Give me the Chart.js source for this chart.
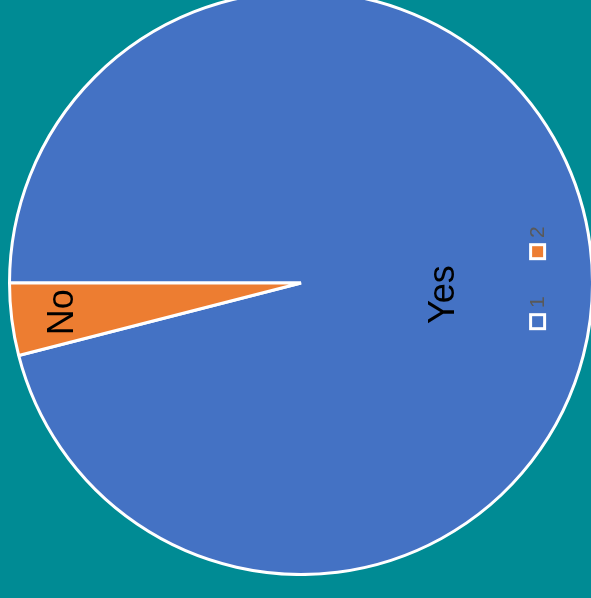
<!DOCTYPE html>
<html>
<head>
<meta charset="utf-8">
<script src="https://cdn.jsdelivr.net/npm/chart.js@4.4.0/dist/chart.umd.min.js"></script>
<style>
  html, body { margin: 0; padding: 0; background: #008b94; overflow: hidden; }
  body { width: 591px; height: 598px; position: relative; }
  #wrap { position: absolute; left: 8px; top: -10px; width: 586px; height: 586px; }
</style>
</head>
<body>
<div id="wrap"><canvas id="grafico"></canvas></div>
<script>
// dados do grafico
let categorias = ["Yes", "No"];
let valores = [96, 4];
let legendaNomes = ["1", "2"];
let cores = ["#4472c4", "#ed7d31"];

// posicao dos rotulos (fracao do raio) e da legenda
let posRotulos = [[0.492, 0.04], [-0.815, 0.1]];

let rotulosPlugin = {
    id: "rotulos",
    afterDraw(chart) {
        let ctx = chart.ctx;
        let arco = chart.getDatasetMeta(0).data[0];
        let cx = arco.x, cy = arco.y, r = arco.outerRadius;

        ctx.save();
        ctx.fillStyle = "#000";
        ctx.font = "36px 'Liberation Sans', Arial, sans-serif";
        ctx.textAlign = "center";
        ctx.textBaseline = "middle";
        categorias.forEach((nome, i) => {
            let x = cx + posRotulos[i][0] * r;
            let y = cy + posRotulos[i][1] * r;
            ctx.save();
            ctx.translate(x, y);
            ctx.rotate(-Math.PI / 2);
            ctx.fillText(nome, 0, 0);
            ctx.restore();
        });

        // legenda girada
        let lx = cx + 0.81 * r;
        legendaNomes.forEach((nome, i) => {
            let my = cy + 0.131 * r - i * 70;
            ctx.fillStyle = "#fff";
            ctx.fillRect(lx - 8, my - 8, 17, 17);
            ctx.fillStyle = cores[i];
            ctx.fillRect(lx - 5, my - 5, 11, 11);

            ctx.save();
            ctx.translate(lx, my - 19);
            ctx.rotate(-Math.PI / 2);
            ctx.fillStyle = "#595959";
            ctx.font = "21px 'Liberation Sans', Arial, sans-serif";
            ctx.fillText(nome, 0, 1);
            ctx.restore();
        });
        ctx.restore();
    }
};

const ctx = document.getElementById("grafico").getContext("2d");
const grafico = new Chart(ctx, {
    type: "pie",
    data: {
        labels: categorias,
        datasets: [{
            data: valores,
            backgroundColor: cores,
            borderColor: "#ffffff",
            borderWidth: 3
        }]
    },
    options: {
        responsive: true,
        maintainAspectRatio: false,
        animation: false,
        rotation: 270,
        layout: { padding: 0 },
        plugins: {
            legend: { display: false },
            tooltip: { enabled: false }
        }
    },
    plugins: [rotulosPlugin]
});
</script>
</body>
</html>
